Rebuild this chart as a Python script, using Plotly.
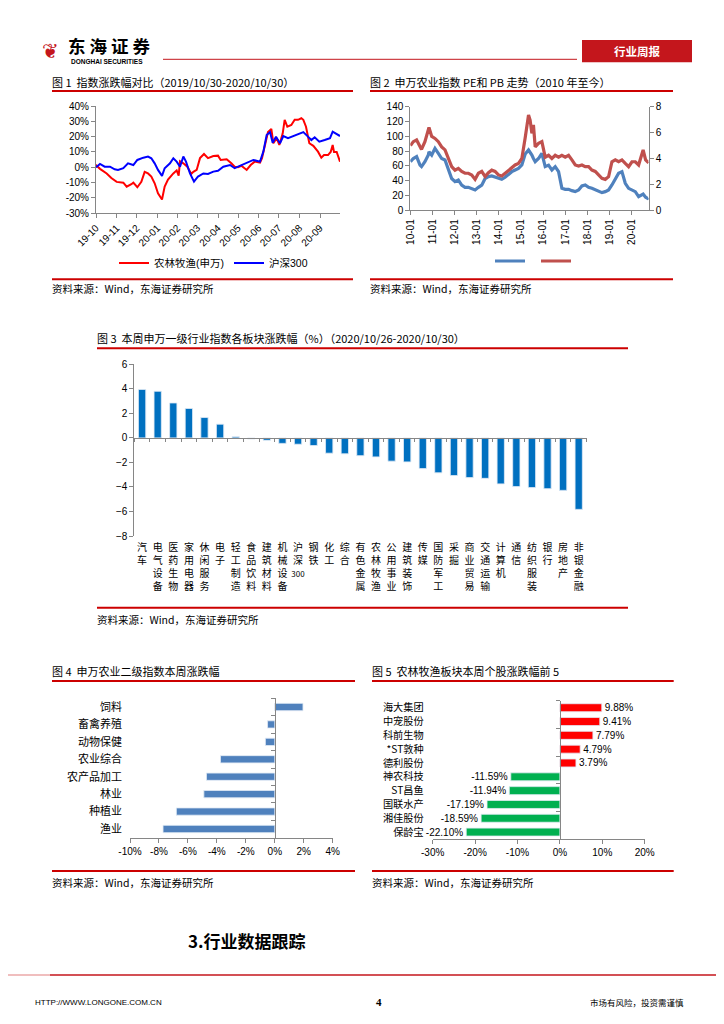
import plotly.graph_objects as go

# ------------------------------------------------------------------ data
fig1_tick_dates = ["2019-10-30", "2019-11-30", "2019-12-30", "2020-01-30", "2020-02-29", "2020-03-30",
                   "2020-04-30", "2020-05-30", "2020-06-30", "2020-07-30", "2020-08-30", "2020-09-30"]
fig1_tick_labels = ["19-10", "19-11", "19-12", "20-01", "20-02", "20-03",
                    "20-04", "20-05", "20-06", "20-07", "20-08", "20-09"]
fig1_yticks = [-30, -20, -10, 0, 10, 20, 30, 40]

agri_dates = ["2019-10-30", "2019-10-31", "2019-11-05", "2019-11-15", "2019-11-22", "2019-11-30", "2019-12-10",
              "2019-12-15", "2019-12-22", "2019-12-25", "2019-12-31", "2020-01-06", "2020-01-11", "2020-01-16",
              "2020-01-21", "2020-01-26", "2020-01-31", "2020-02-06", "2020-02-10", "2020-02-15", "2020-02-23",
              "2020-02-28", "2020-03-02", "2020-03-04", "2020-03-09", "2020-03-15", "2020-03-21", "2020-03-24",
              "2020-03-29", "2020-04-03", "2020-04-09", "2020-04-15", "2020-04-23", "2020-04-30", "2020-05-04",
              "2020-05-13", "2020-05-20", "2020-05-25", "2020-05-30", "2020-06-04", "2020-06-12", "2020-06-18",
              "2020-06-24", "2020-07-02", "2020-07-05", "2020-07-09", "2020-07-14", "2020-07-19", "2020-07-22",
              "2020-07-27", "2020-07-31", "2020-08-05", "2020-08-08", "2020-08-12", "2020-08-18", "2020-08-23",
              "2020-08-28", "2020-09-02", "2020-09-05", "2020-09-09", "2020-09-14", "2020-09-20", "2020-09-27",
              "2020-10-02", "2020-10-06", "2020-10-12", "2020-10-16", "2020-10-19", "2020-10-21", "2020-10-25",
              "2020-10-30"]
agri_chg = [0, 1, -1, -4, -7, -9.5, -10, -12.6, -11, -10, -13, -9.5, -3, -4, -6, -10.4, -17, -21, -12.6, -8,
            -4, -2, -5.4, 4, 2.6, 0.4, -4.3, -3, -1.7, 6, 8.7, 6, 7.4, 7.6, 4.8, 5.2, 2.6, 0.4, 0, 1, -1.7,
            1.5, 3.7, 3, 6, 14.6, 23, 25, 15.7, 19, 14.6, 22, 31, 26.5, 27.6, 31, 31, 32, 31, 26.5, 15.7, 14,
            10.2, 6.3, 8, 8, 10, 14.6, 10, 10, 3.7]

hs300_dates = ["2019-10-30", "2019-11-05", "2019-11-12", "2019-11-20", "2019-11-27", "2019-12-02", "2019-12-10",
               "2019-12-17", "2019-12-25", "2019-12-31", "2020-01-09", "2020-01-16", "2020-01-21", "2020-01-26",
               "2020-01-31", "2020-02-06", "2020-02-10", "2020-02-18", "2020-02-23", "2020-02-28", "2020-03-04",
               "2020-03-09", "2020-03-13", "2020-03-19", "2020-03-25", "2020-03-31", "2020-04-08", "2020-04-15",
               "2020-04-23", "2020-04-30", "2020-05-08", "2020-05-18", "2020-05-25", "2020-06-02", "2020-06-12",
               "2020-06-22", "2020-07-02", "2020-07-07", "2020-07-12", "2020-07-17", "2020-07-21", "2020-07-26",
               "2020-08-01", "2020-08-06", "2020-08-13", "2020-08-21", "2020-08-28", "2020-09-05", "2020-09-12",
               "2020-09-17", "2020-09-22", "2020-09-29", "2020-10-07", "2020-10-15", "2020-10-19", "2020-10-25",
               "2020-10-30"]
hs300_chg = [0, 2.2, 0.4, 0.4, -1.3, -1.7, -0.6, 2.6, 1.5, 4.8, 6.3, 7, 5.9, 2.6, -1.7, -5.6, -0.6, 2.6, 5.9,
             3.7, 0.4, 7, 3.7, -4, -9.4, -6, -4, -4.3, -2.8, -2.2, 0.4, 1.5, -0.6, 0.9, 2.6, 4.8, 3.7, 10.2, 21,
             23, 16, 20, 15.7, 20.4, 19, 20.4, 21.7, 23, 20, 17.8, 19.6, 16.7, 17.8, 19, 23.3, 21.7, 20.4]

fig2_tick_dates = ["2010-01-01", "2011-01-01", "2012-01-01", "2013-01-01", "2014-01-01", "2015-01-01",
                   "2016-01-01", "2017-01-01", "2018-01-01", "2019-01-01", "2020-01-01"]
fig2_tick_labels = ["10-01", "11-01", "12-01", "13-01", "14-01", "15-01",
                    "16-01", "17-01", "18-01", "19-01", "20-01"]
fig2_dates = ["2010-01-04", "2010-02-20", "2010-04-15", "2010-06-10", "2010-07-05", "2010-08-30", "2010-10-25",
              "2010-11-05", "2010-12-20", "2011-02-12", "2011-04-08", "2011-06-02", "2011-07-27", "2011-09-20",
              "2011-11-14", "2012-01-08", "2012-03-03", "2012-04-27", "2012-06-21", "2012-08-15", "2012-10-10",
              "2012-12-04", "2013-01-28", "2013-03-24", "2013-05-18", "2013-07-12", "2013-09-05", "2013-10-30",
              "2013-12-24", "2014-02-17", "2014-04-13", "2014-06-07", "2014-08-01", "2014-09-25", "2014-11-19",
              "2015-01-14", "2015-03-10", "2015-05-04", "2015-05-30", "2015-06-28", "2015-07-24", "2015-08-22",
              "2015-10-16", "2015-12-10", "2016-02-03", "2016-03-29", "2016-05-23", "2016-07-17", "2016-09-10",
              "2016-11-04", "2016-12-29", "2017-02-22", "2017-04-18", "2017-06-12", "2017-08-06", "2017-09-30",
              "2017-11-24", "2018-01-18", "2018-03-14", "2018-05-08", "2018-07-02", "2018-08-26", "2018-10-20",
              "2018-12-14", "2019-02-07", "2019-04-03", "2019-05-28", "2019-07-22", "2019-09-15", "2019-11-09",
              "2020-01-03", "2020-02-27", "2020-04-22", "2020-06-16", "2020-07-05", "2020-08-15", "2020-09-16",
              "2020-09-28"]
fig2_pe = [65.7, 70, 72.5, 61, 59, 65.7, 74.7, 79, 74.7,
           83.7, 77, 70, 68, 56.7, 43,
           38.7, 41, 34, 31, 31, 29.7, 27.5,
           31, 34, 43, 45.5, 46.4, 44.6, 43.2,
           41.9, 44.6, 49, 52.2, 54.5, 56.7,
           61.2, 76, 81.5, 79, 74.7, 70, 65.7, 70, 77,
           59, 61, 54.5, 59, 52.2, 29.7, 28.4,
           28.4, 26.6, 25.2, 27.5, 32.9, 34.2,
           31, 29.7, 27.5, 25.2, 23.9, 25.2, 27.5,
           34.2, 43.2, 50, 52.2, 36.5, 29.7,
           27.5, 25.2, 18.5, 20.7, 22, 17.6, 16.2, 17]
fig2_pb = [5.0, 5.3, 5.43, 4.9, 4.7, 5.3, 6.07, 6.4, 5.7,
           5.55, 5.3, 4.9, 4.66, 4.0, 3.38,
           3.1, 3.24, 3.0, 2.86, 2.86, 2.73, 2.39,
           2.86, 3.0, 2.6, 2.9, 3.1, 3.0, 2.73,
           2.65, 2.86, 3.06, 3.24, 3.5, 3.62,
           4.0, 5.6, 7.36, 6.97, 5.94, 6.6, 4.9, 5.17, 5.3,
           4.1, 4.25, 4.0, 4.25, 4.1, 4.25, 4.1,
           4.25, 3.89, 3.5, 3.42, 3.5, 3.37,
           3.37, 3.11, 3.0, 2.73, 2.47, 2.39, 2.6,
           3.75, 3.89, 3.75, 3.89, 3.62, 3.37,
           3.75, 3.75, 3.5, 4.4, 4.66, 3.89, 3.75, 3.8]

fig3_industries = ["汽车", "电气设备", "医药生物", "家用电器", "休闲服务", "电子", "轻工制造", "食品饮料",
                   "建筑材料", "机械设备", "沪深300", "钢铁", "化工", "综合", "有色金属", "农林牧渔", "公用事业",
                   "建筑装饰", "传媒", "国防军工", "采掘", "商业贸易", "交通运输", "计算机", "通信", "纺织服装",
                   "银行", "房地产", "非银金融"]
fig3_chg = [3.95, 3.8, 2.85, 2.4, 1.66, 1.12, 0.1, -0.1, -0.2, -0.45, -0.52, -0.62, -1.25, -1.3, -1.45, -1.55,
            -1.9, -1.96, -2.5, -2.85, -3.07, -3.24, -3.3, -3.75, -3.97, -4.05, -4.14, -4.28, -5.83]
fig3_ticks = [-8, -6, -4, -2, 0, 2, 4, 6]

fig4_sectors = ["饲料", "畜禽养殖", "动物保健", "农业综合", "农产品加工", "林业", "种植业", "渔业"]
fig4_chg = [1.95, -0.5, -0.65, -3.75, -4.72, -4.9, -6.8, -7.72]
fig4_ticks = [-10, -8, -6, -4, -2, 0, 2, 4]

fig5_stocks = ["海大集团", "中宠股份", "科前生物", "*ST敦种", "德利股份", "神农科技", "ST昌鱼", "国联水产",
               "湘佳股份", "保龄宝"]
fig5_chg = [9.88, 9.41, 7.79, 4.79, 3.79, -11.59, -11.94, -17.19, -18.59, -22.10]
fig5_ticks = [-30, -20, -10, 0, 10, 20]

# ------------------------------------------------------------------ layout helpers
# the page body has an 8px margin, so the figure is 708x1008 placed at (8, 8)
OFF = 8
W, H = 724 - 2 * OFF, 1024 - 2 * OFF
def X(px): return (px - OFF) / W
def Y(py): return 1 - (py - OFF) / H
def frac(v, lo, hi, d0, d1): return d0 + (v - lo) / (hi - lo) * (d1 - d0)
def pct(ticks): return [f"{t}%" for t in ticks]

LAT = "Liberation Sans, Noto Sans CJK SC"
CJK = "Noto Sans CJK SC"
AX = "#868686"
RED = "#CC0000"

def axis(**kw):
    d = dict(showline=True, linecolor=AX, linewidth=1, showgrid=False, zeroline=False, ticks="outside",
             tickcolor=AX, ticklen=4, tickfont=dict(size=10, color="#000", family=LAT), fixedrange=True,
             automargin=False)
    d.update(kw)
    return d

fig = go.Figure()

# chart 1
fig.add_trace(go.Scatter(x=agri_dates, y=agri_chg, mode="lines", name="农林牧渔(申万)",
                         line=dict(color="#FF0000", width=2), xaxis="x", yaxis="y", legend="legend"))
fig.add_trace(go.Scatter(x=hs300_dates, y=hs300_chg, mode="lines", name="沪深300",
                         line=dict(color="#0000FF", width=2), xaxis="x", yaxis="y", legend="legend"))
# chart 2
fig.add_trace(go.Scatter(x=fig2_dates, y=fig2_pe, mode="lines", name=" ",
                         line=dict(color="#4F81BD", width=3.2), xaxis="x2", yaxis="y2", legend="legend2"))
fig.add_trace(go.Scatter(x=fig2_dates, y=fig2_pb, mode="lines", name=" ",
                         line=dict(color="#C0504D", width=3.2), xaxis="x2", yaxis="y3", legend="legend2"))
# chart 3
fig.add_trace(go.Bar(x=fig3_industries, y=fig3_chg, marker_color="#0070C0", width=0.47,
                     xaxis="x3", yaxis="y4", showlegend=False))
fig.add_trace(go.Bar(x=fig3_industries, y=fig3_chg, marker_color="rgba(0,0,0,0)", width=0.47,
                     xaxis="x6", yaxis="y4", showlegend=False, hoverinfo="skip"))
# chart 4
fig.add_trace(go.Bar(y=fig4_sectors, x=fig4_chg, orientation="h", marker_color="#4F81BD", width=0.42,
                     xaxis="x4", yaxis="y5", showlegend=False))
fig.add_trace(go.Bar(y=fig4_sectors, x=fig4_chg, orientation="h", marker_color="rgba(0,0,0,0)", width=0.42,
                     xaxis="x4", yaxis="y7", showlegend=False, hoverinfo="skip"))
# chart 5
fig5_colors = ["#FF0000" if v >= 0 else "#00B050" for v in fig5_chg]
fig.add_trace(go.Bar(y=fig5_stocks, x=fig5_chg, orientation="h", marker_color=fig5_colors, width=0.58,
                     texttemplate="%{x:.2f}%", textposition="outside", cliponaxis=False, constraintext="none",
                     textfont=dict(size=10, color="#000", family=LAT),
                     xaxis="x5", yaxis="y6", showlegend=False))
fig.add_trace(go.Bar(y=fig5_stocks, x=fig5_chg, orientation="h", marker_color="rgba(0,0,0,0)", width=0.58,
                     xaxis="x5", yaxis="y8", showlegend=False, hoverinfo="skip"))

# domains
d1x, d1y = [X(96), X(340)], [Y(213.3), Y(106)]
d2x, d2y = [X(410.3), X(648.7)], [Y(210.3), Y(106.7)]
d3x, d3y = [X(134.3), X(586.5)], [Y(536), Y(364.3)]
d4x, d4y = [X(130), X(332.7)], [Y(837.7), Y(698.3)]
d5x, d5y = [X(432.7), X(644.7)], [Y(839), Y(700.8)]

n3, n4, n5 = len(fig3_industries), len(fig4_sectors), len(fig5_stocks)
fig3_ticktext = []
for s in fig3_industries:
    if any(c.isdigit() for c in s):
        head = "".join(c for c in s if not c.isdigit())
        digits = "".join(c for c in s if c.isdigit())
        fig3_ticktext.append("<br>".join(head) + "<br><span style='font-size:8px'>" + digits + "</span>")
    else:
        fig3_ticktext.append("<br>".join(s))

layout = dict(
    width=W, height=H, margin=dict(l=0, r=0, t=0, b=0, pad=0, autoexpand=False),
    paper_bgcolor="white", plot_bgcolor="rgba(0,0,0,0)",
    font=dict(family=LAT, size=10, color="#000"),
    xaxis=axis(domain=d1x, anchor="y", type="date", range=["2019-10-30", "2020-10-30"],
               tickvals=fig1_tick_dates, ticktext=fig1_tick_labels, tickangle=-45),
    yaxis=axis(domain=d1y, anchor="x", range=[-30, 40], tickvals=fig1_yticks, ticktext=pct(fig1_yticks)),
    xaxis2=axis(domain=d2x, anchor="y2", type="date", range=["2010-01-01", "2020-10-05"],
                tickvals=fig2_tick_dates, ticktext=fig2_tick_labels, tickangle=-90),
    yaxis2=axis(domain=d2y, anchor="x2", range=[0, 140], dtick=20),
    yaxis3=axis(domain=d2y, anchor="x2", overlaying="y2", side="right", range=[0, 8], dtick=2),
    xaxis3=axis(domain=d3x, anchor="y4", type="category", range=[-0.5, n3 - 0.5], showline=False,
                ticks="", ticktext=fig3_ticktext, tickvals=fig3_industries, ticklabelstandoff=4,
                tickfont=dict(size=10, color="#000", family=CJK)),
    xaxis6=axis(overlaying="x3", anchor="free", position=frac(0, -8, 6, d3y[0], d3y[1]), type="category",
                range=[-0.5, n3 - 0.5], tickson="boundaries", ticklen=3, showticklabels=False),
    yaxis4=axis(domain=d3y, anchor="x3", range=[-8, 6], tickvals=fig3_ticks),
    xaxis4=axis(domain=d4x, anchor="y5", range=[-10, 4], tickvals=fig4_ticks, ticktext=pct(fig4_ticks)),
    yaxis5=axis(domain=d4y, anchor="x4", type="category", range=[n4 - 0.5, -0.5], showline=False, ticks="",
                ticklabelstandoff=7, tickfont=dict(size=11, color="#000", family=CJK)),
    yaxis7=axis(overlaying="y5", anchor="free", position=frac(0, -10, 4, d4x[0], d4x[1]), type="category",
                range=[n4 - 0.5, -0.5], tickson="boundaries", ticklen=4, showticklabels=False),
    xaxis5=axis(domain=d5x, anchor="y6", range=[-30, 20], tickvals=fig5_ticks, ticktext=pct(fig5_ticks)),
    yaxis6=axis(domain=d5y, anchor="x5", type="category", range=[n5 - 0.5, -0.5], showline=False, ticks="",
                ticklabelstandoff=8, tickfont=dict(size=10.2, color="#000", family=CJK)),
    yaxis8=axis(overlaying="y6", anchor="free", position=frac(0, -30, 20, d5x[0], d5x[1]), type="category",
                range=[n5 - 0.5, -0.5], tickson="boundaries", ticklen=4, showticklabels=False),
    legend=dict(orientation="h", x=X(114), y=Y(263), xanchor="left", yanchor="middle",
                font=dict(size=10.5, family=LAT), bgcolor="rgba(0,0,0,0)", itemwidth=30),
    legend2=dict(orientation="h", x=X(490), y=Y(261), xanchor="left", yanchor="middle",
                 font=dict(size=10, family=LAT), bgcolor="rgba(0,0,0,0)", itemwidth=30,
                 entrywidth=1, entrywidthmode="pixels"),
)

annots = []
def txt(x, y, s, size=11, color="#000", family=CJK, xanchor="left"):
    annots.append(dict(x=X(x), y=Y(y), xref="paper", yref="paper", text=s, showarrow=False,
                       xanchor=xanchor, yanchor="middle", font=dict(size=size, color=color, family=family)))

shapes = []
def hline(x0, x1, y, color=RED, width=2):
    shapes.append(dict(type="line", xref="paper", yref="paper", x0=X(x0), x1=X(x1), y0=Y(y), y1=Y(y),
                       line=dict(color=color, width=width)))

# header
txt(40, 51, "❦", size=20, color="#C4161C", family="DejaVu Sans")
txt(66, 45.5, "<b>东 海 证 券</b>", size=17.5)
txt(69, 61, "<b>DONGHAI SECURITIES</b>", size=6.5, family="Liberation Sans")
hline(163, 577, 59.3, "#C4161C", 1)
shapes.append(dict(type="rect", xref="paper", yref="paper", x0=X(582), x1=X(692), y0=Y(62.3), y1=Y(40),
                   fillcolor="#C4161C", line=dict(width=0)))
txt(637, 51, "<b>行业周报</b>", size=11.5, color="white", xanchor="center")

SRC = "资料来源：Wind，东海证券研究所"
# chart 1 / 2 frame
txt(50, 82, "图 1  指数涨跌幅对比（2019/10/30-2020/10/30）", size=11)
hline(52, 353, 91)
hline(52, 353, 279.3)
txt(50, 288.5, SRC, size=10.5)
txt(368, 82, "图 2  申万农业指数 PE和 PB 走势（2010 年至今）", size=11)
hline(370, 673, 91)
hline(370, 673, 279.3)
txt(368, 288.5, SRC, size=10.5)
# chart 3
txt(95, 338, "图 3  本周申万一级行业指数各板块涨跌幅（%）（2020/10/26-2020/10/30）", size=11)
hline(97, 628, 348.3)
hline(97, 628, 607.7)
txt(95, 619, SRC, size=10.5)
# chart 4 / 5
txt(50, 670.7, "图 4  申万农业二级指数本周涨跌幅", size=11)
hline(52, 355, 681)
hline(52, 355, 871)
txt(50, 882.7, SRC, size=10.5)
txt(370, 670.7, "图 5  农林牧渔板块本周个股涨跌幅前 5", size=11)
hline(372, 673.7, 681)
hline(372, 673.7, 871)
txt(370, 882.7, SRC, size=10.5)
# section + footer
txt(186, 940, "<b>3.行业数据跟踪</b>", size=17)
hline(0, 50, 975, "#EBA8A8", 1.5)
hline(50, 724, 975, "#C4161C", 1.5)
txt(33, 1002, "HTTP://WWW.LONGONE.COM.CN", size=8, family="Liberation Sans")
txt(374, 1002, "<b>4</b>", size=11, family="Liberation Serif")
txt(588, 1002, "市场有风险，投资需谨慎", size=8.5)

layout["annotations"] = annots
layout["shapes"] = shapes
fig.update_layout(**layout)

fig.write_html("out.html")
